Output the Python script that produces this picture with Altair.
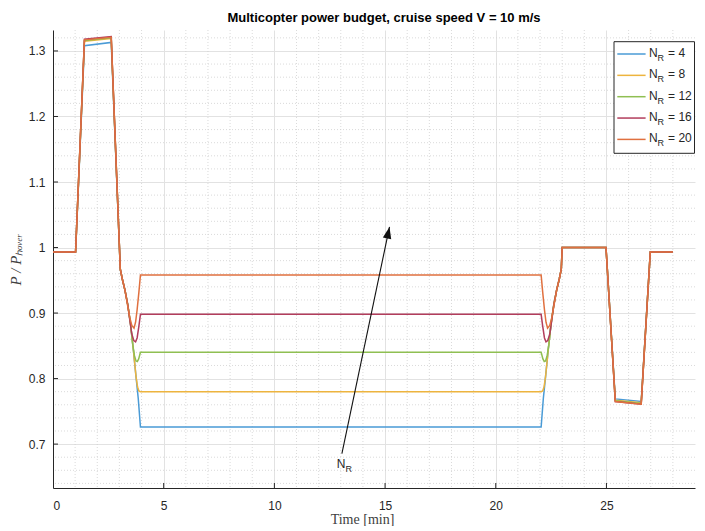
import altair as alt
import pandas as pd

# ---------------- data ----------------
LABELS = ["4", "8", "12", "16", "20"]
COLORS = ["#4a9bd6", "#edb43e", "#8fbf52", "#b23d5c", "#e0703f"]

T_N4 = [0, 1.02, 1.42, 2.63, 3.04, 3.13, 3.25, 3.38, 3.5, 3.62, 3.75, 3.85, 3.95,
        22.05, 22.15, 22.25, 22.38, 22.5, 22.62, 22.75, 22.87, 22.96, 23.0, 24.98,
        25.4, 26.57, 26.98, 28.0]
P_N4 = [0.993, 0.993, 1.308, 1.313, 0.967, 0.952, 0.935, 0.912, 0.884, 0.847, 0.803, 0.77, 0.726,
        0.726, 0.77, 0.803, 0.847, 0.884, 0.912, 0.935, 0.952, 0.967, 1.0, 1.0,
        0.769, 0.765, 0.993, 0.993]

T_N8 = [0, 1.02, 1.42, 2.63, 3.04, 3.13, 3.25, 3.38, 3.5, 3.62, 3.75, 3.82, 3.88, 3.95,
        22.05, 22.12, 22.18, 22.25, 22.38, 22.5, 22.62, 22.75, 22.87, 22.96, 23.0, 24.98,
        25.4, 26.57, 26.98, 28.0]
P_N8 = [0.993, 0.993, 1.315, 1.319, 0.967, 0.952, 0.935, 0.912, 0.884, 0.847, 0.803, 0.787, 0.781, 0.78,
        0.78, 0.781, 0.787, 0.803, 0.847, 0.884, 0.912, 0.935, 0.952, 0.967, 1.0, 1.0,
        0.767, 0.763, 0.993, 0.993]

T_N12 = [0, 1.02, 1.42, 2.63, 3.04, 3.13, 3.25, 3.38, 3.5, 3.6, 3.68, 3.75, 3.81, 3.87, 3.95,
         22.05, 22.13, 22.19, 22.25, 22.32, 22.4, 22.5, 22.62, 22.75, 22.87, 22.96, 23.0, 24.98,
         25.4, 26.57, 26.98, 28.0]
P_N12 = [0.993, 0.993, 1.316, 1.320, 0.967, 0.952, 0.935, 0.912, 0.884, 0.852, 0.835, 0.827, 0.826, 0.830, 0.84,
         0.84, 0.830, 0.826, 0.827, 0.835, 0.852, 0.884, 0.912, 0.935, 0.952, 0.967, 1.0, 1.0,
         0.766, 0.762, 0.993, 0.993]

T_N16 = [0, 1.02, 1.42, 2.63, 3.04, 3.13, 3.25, 3.38, 3.47, 3.56, 3.65, 3.73, 3.8, 3.88, 3.95,
         22.05, 22.12, 22.2, 22.27, 22.35, 22.44, 22.53, 22.62, 22.75, 22.87, 22.96, 23.0, 24.98,
         25.4, 26.57, 26.98, 28.0]
P_N16 = [0.993, 0.993, 1.318, 1.322, 0.967, 0.952, 0.935, 0.912, 0.889, 0.868, 0.858, 0.856, 0.862, 0.88, 0.898,
         0.898, 0.88, 0.862, 0.856, 0.858, 0.868, 0.889, 0.912, 0.935, 0.952, 0.967, 1.0, 1.0,
         0.765, 0.761, 0.993, 0.993]

T_N20 = [0, 1.02, 1.42, 2.63, 3.04, 3.13, 3.25, 3.38, 3.47, 3.56, 3.66, 3.73, 3.8, 3.88, 3.95,
         22.05, 22.12, 22.2, 22.27, 22.34, 22.44, 22.53, 22.62, 22.75, 22.87, 22.96, 23.0, 24.98,
         25.4, 26.57, 26.98, 28.0]
P_N20 = [0.993, 0.993, 1.317, 1.321, 0.967, 0.952, 0.935, 0.91, 0.893, 0.881, 0.877, 0.886, 0.905, 0.932, 0.958,
         0.958, 0.932, 0.905, 0.886, 0.877, 0.881, 0.893, 0.91, 0.935, 0.952, 0.967, 1.0, 1.0,
         0.765, 0.761, 0.993, 0.993]

SERIES_T = [T_N4, T_N8, T_N12, T_N16, T_N20]
SERIES_P = [P_N4, P_N8, P_N12, P_N16, P_N20]

X_MAJOR = [0, 5, 10, 15, 20, 25]
X_MINOR = [1, 2, 3, 4, 6, 7, 8, 9, 11, 12, 13, 14, 16, 17, 18, 19, 21, 22, 23, 24, 26, 27, 28]
Y_MAJOR = [0.7, 0.8, 0.9, 1.0, 1.1, 1.2, 1.3]
Y_MINOR = [0.64, 0.66, 0.68, 0.72, 0.74, 0.76, 0.78, 0.82, 0.84, 0.86, 0.88,
           0.92, 0.94, 0.96, 0.98, 1.02, 1.04, 1.06, 1.08, 1.12, 1.14, 1.16, 1.18,
           1.22, 1.24, 1.26, 1.28, 1.32]

ARROW_T = [13.05, 15.2]
ARROW_P = [0.6855, 1.0315]
NR_LABEL_T = [12.82]
NR_LABEL_P = [0.664]

TITLE = "Multicopter power budget, cruise speed V = 10 m/s"

# ---------------- chart ----------------
W, H = 642, 458
x_scale = alt.Scale(domain=[0, 29.0], nice=False, zero=False)
y_scale = alt.Scale(domain=[0.633, 1.332], nice=False, zero=False)

x_axis = alt.Axis(values=X_MAJOR, format="d", grid=True, gridColor="#e2e2e2", gridWidth=1,
                  ticks=False, labelPadding=12, domainColor="#262626", domainWidth=1,
                  labelFont="Liberation Sans", labelFontSize=12, labelColor="#262626",
                  title="Time [min]", titleFont="Liberation Serif", titleFontSize=14,
                  titleFontWeight="normal", titleColor="#404040", titleX=309, titleY=35,
                  titleBaseline="alphabetic")
y_axis = alt.Axis(values=Y_MAJOR, format="~g", grid=True, gridColor="#e2e2e2", gridWidth=1,
                  ticks=False, labelPadding=8, domainColor="#262626", domainWidth=1,
                  labelFont="Liberation Sans", labelFontSize=12, labelColor="#262626",
                  title="P / Pₕₒᵥₑᵣ", titleFont="Liberation Serif", titleFontSize=15,
                  titleFontStyle="italic", titleFontWeight="normal", titleColor="#404040",
                  titlePadding=5)

X = lambda f: alt.X(f, type="quantitative", scale=x_scale, axis=x_axis)
Y = lambda f: alt.Y(f, type="quantitative", scale=y_scale, axis=y_axis)

layers = []

xminor = alt.Chart(pd.DataFrame({"t": X_MINOR})).mark_rule(
    color="#d0d0d0", strokeDash=[1, 2], strokeWidth=0.8).encode(x=X("t"))
yminor = alt.Chart(pd.DataFrame({"p": Y_MINOR})).mark_rule(
    color="#d0d0d0", strokeDash=[1, 2], strokeWidth=0.8).encode(y=Y("p"))
layers += [xminor, yminor]

# inward major ticks (MATLAB style)
layers.append(alt.Chart(pd.DataFrame({"t": X_MAJOR[1:]})).mark_rule(
    color="#262626", strokeWidth=1).encode(x=X("t"), y=alt.value(H), y2=alt.value(H - 5)))
layers.append(alt.Chart(pd.DataFrame({"p": Y_MAJOR})).mark_rule(
    color="#262626", strokeWidth=1).encode(y=Y("p"), x=alt.value(0), x2=alt.value(5)))

for t, p, col in zip(SERIES_T, SERIES_P, COLORS):
    df = pd.DataFrame({"t": t, "p": p, "i": list(range(len(t)))})
    layers.append(
        alt.Chart(df).mark_line(color=col, strokeWidth=1.5, clip=True).encode(
            x=X("t"), y=Y("p"), order=alt.Order("i:Q"))
    )

arrow_df = pd.DataFrame({"t": ARROW_T, "p": ARROW_P})
layers.append(alt.Chart(arrow_df).mark_line(color="#111111", strokeWidth=1.1).encode(
    x=X("t"), y=Y("p")))
head_df = pd.DataFrame({"t": ARROW_T[1:], "p": ARROW_P[1:]})
layers.append(alt.Chart(head_df).mark_point(
    shape="M0,0L-0.36,1L0.36,1Z", filled=True, size=560, angle=12,
    color="#111111", opacity=1).encode(x=X("t"), y=Y("p")))

lab_df = pd.DataFrame({"t": NR_LABEL_T, "p": NR_LABEL_P})
layers.append(alt.Chart(lab_df).mark_text(
    text="N", align="left", baseline="alphabetic", font="Liberation Sans",
    fontSize=12, color="#262626").encode(x=X("t"), y=Y("p")))
layers.append(alt.Chart(lab_df).mark_text(
    text="R", align="left", baseline="alphabetic", font="Liberation Sans",
    fontSize=9, dx=8.8, dy=4.5, color="#262626").encode(x=X("t"), y=Y("p")))

# legend (layout in plot pixels)
one = pd.DataFrame({"a": [0]})
LX = 561.0
layers.append(alt.Chart(one).mark_rect(fill="white", stroke="#262626", strokeWidth=1).encode(
    x=alt.value(LX), x2=alt.value(LX + 80.5), y=alt.value(11.7), y2=alt.value(123.3)))
for k, (lab, col) in enumerate(zip(LABELS, COLORS)):
    yk = 24 + k * 21.35
    layers.append(alt.Chart(one).mark_rule(color=col, strokeWidth=1.5).encode(
        x=alt.value(LX + 3.3), x2=alt.value(LX + 31.6), y=alt.value(yk)))
    layers.append(alt.Chart(one).mark_text(
        text="N", align="left", baseline="alphabetic", font="Liberation Sans",
        fontSize=12, color="#262626").encode(x=alt.value(LX + 35), y=alt.value(yk + 3)))
    layers.append(alt.Chart(one).mark_text(
        text="R", align="left", baseline="alphabetic", font="Liberation Sans",
        fontSize=9, color="#262626").encode(x=alt.value(LX + 43.6), y=alt.value(yk + 7)))
    layers.append(alt.Chart(one).mark_text(
        text="= " + lab, align="left", baseline="alphabetic", font="Liberation Sans",
        fontSize=12, color="#262626").encode(x=alt.value(LX + 54.1), y=alt.value(yk + 3)))

chart = alt.layer(*layers).properties(
    width=W, height=H,
    title=alt.TitleParams(TITLE, font="Liberation Sans", fontSize=13, fontWeight="bold",
                          color="#000000", dx=10, offset=5, anchor="middle"),
    padding={"left": 0, "top": 3, "right": 0, "bottom": 0},
    background="white",
).configure_view(stroke=None)

chart.save("out.html", embed_options={"renderer": "svg", "actions": False})
